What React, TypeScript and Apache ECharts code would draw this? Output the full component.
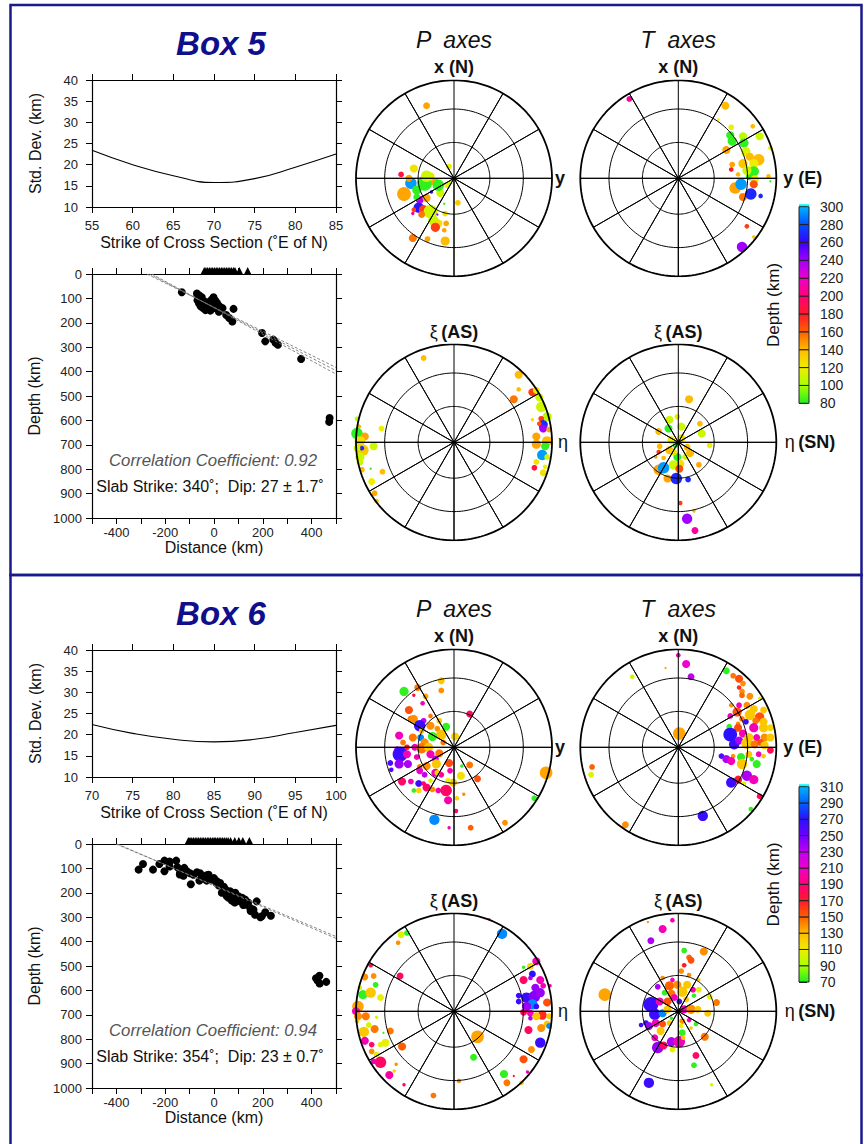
import React, { useEffect, useRef } from 'react';
import * as echarts from 'echarts';

const FONT = '"Liberation Sans", Arial, Helvetica, sans-serif';

// ---------- Std. deviation vs strike ----------
const STRIKE_5 = [55, 60, 65, 70, 75, 80, 85];
const STDDEV_5 = [23.4, 20.0, 17.4, 15.8, 16.7, 19.4, 22.5];
const STRIKE_6 = [70, 75, 80, 85, 90, 95, 100];
const STDDEV_6 = [22.4, 20.3, 18.9, 18.3, 18.9, 20.5, 22.2];

// ---------- Cross sections: [distance km, depth km] ----------
const QUAKES_5 = [
  [-132, 75], [-70, 80], [-60, 88], [-50, 95], [-68, 108], [-62, 120], [-55, 132], [-45, 140], [-35, 148],
  [-28, 125], [-20, 115], [-10, 105], [-2, 95], [5, 108], [12, 118], [-5, 130], [0, 140], [10, 138], [20, 130],
  [25, 148], [35, 140], [20, 155], [50, 168], [62, 180], [75, 195], [80, 143], [-40, 112], [-15, 150],
  [197, 242], [210, 276], [243, 269], [252, 282], [262, 290], [357, 348], [474, 590], [472, 606],
];
const QUAKES_6 = [
  [-309, 105], [-291, 82], [-250, 105], [-224, 82], [-203, 68], [-203, 112], [-182, 72], [-182, 92], [-155, 68],
  [-150, 95], [-139, 118], [-122, 98], [-111, 112], [-98, 120], [-95, 165], [-84, 126], [-70, 116], [-57, 120],
  [-43, 133], [-30, 128], [-22, 126], [-9, 146], [0, 140], [12, 153], [25, 160], [32, 200], [40, 175], [46, 185],
  [52, 214], [58, 195], [66, 194], [73, 232], [80, 210], [87, 200], [95, 225], [100, 214], [107, 235], [115, 220],
  [128, 228], [134, 249], [140, 240], [148, 262], [162, 269], [168, 290], [175, 235], [190, 300], [196, 296],
  [210, 280], [233, 294], [-140, 125], [-125, 130], [-60, 150], [-45, 140], [-30, 150], [10, 160], [20, 170],
  [60, 220], [85, 240], [120, 250], [150, 275], [418, 550], [432, 540], [433, 572], [460, 565], [425, 560],
];
const VOLCANOES_5 = [-40, -33, -26, -19, -12, -5, 2, 9, 16, 23, 30, 37, 44, 51, 58, 65, 72, 80, 86, 104, 138];
const VOLCANOES_6 = [-105, -98, -91, -84, -77, -70, -63, -56, -49, -42, -35, -28, -21, -14, -7, 0, 7, 14, 21, 28, 35, 42, 50, 58, 68, 85, 102, 118, 145];
const FITS_5 = [
  [[-275, 0], [500, 383]],
  [[-265, 0], [500, 396]],
  [[-255, 0], [500, 410]],
];
const FITS_6 = [
  [[-402, 0], [500, 379]],
  [[-396, 0], [500, 387]],
];
const CORR_5 = 'Correlation Coefficient: 0.92';
const SLAB_5 = 'Slab Strike: 340˚;  Dip: 27 ± 1.7˚';
const CORR_6 = 'Correlation Coefficient: 0.94';
const SLAB_6 = 'Slab Strike: 354˚;  Dip: 23 ± 0.7˚';

// ---------- Stereonets: [x, y (projection units, primitive = 100), depth km, symbol size] ----------
const P_AXES_5 = [
  [-28, 74, 145, 6], [-54, 4, 185, 5], [-41, 10, 125, 7], [-44, -5, 295, 10], [-51, -16, 145, 12], [-30, -5, 82, 13],
  [-38, -12, 82, 8], [-35, -22, 235, 7], [-36, -30, 265, 9], [-31, -32, 170, 8], [-41, -32, 170, 4], [-24, -34, 110, 12],
  [-21, -43, 110, 9], [-16, -46, 125, 7], [-19, -50, 170, 8], [-8, -46, 145, 5], [-9, -36, 125, 5], [-17, -37, 250, 2],
  [-10, -53, 145, 4], [-42, -61, 155, 7], [-27, -62, 145, 5], [-9, -64, 140, 8], [4, -25, 135, 5], [-5, 12, 120, 5],
  [-10, -26, 82, 2], [-24, 2, 125, 7], [-19, -4, 145, 7], [-14, -15, 110, 7], [-7, -7, 120, 5], [-46, 0, 145, 6],
  [-23, -14, 265, 3], [-38, -19, 82, 6], [-28, -20, 145, 7], [-33, -37, 155, 6], [-42, -36, 210, 3], [-4, -5, 110, 4],
  [-16, -7, 82, 10], [-28, 2, 110, 10],
];
const T_AXES_5 = [
  [-50, 81, 210, 5], [48, 74, 140, 7], [54, 52, 120, 5], [76, 53, 140, 4], [53, 44, 82, 7], [55, 38, 82, 8],
  [66, 43, 105, 7], [83, 43, 110, 7], [67, 36, 82, 8], [49, 29, 145, 7], [69, 27, 115, 8], [94, 31, 120, 4],
  [73, 22, 140, 7], [82, 19, 140, 10], [77, 15, 120, 8], [66, 15, 135, 8], [55, 14, 145, 5], [54, 9, 180, 4],
  [61, 4, 140, 4], [77, 7, 82, 9], [73, 2, 82, 7], [78, -1, 120, 7], [77, -6, 165, 7], [58, -10, 145, 10],
  [64, -6, 295, 10], [66, -19, 155, 7], [74, -16, 270, 10], [84, -18, 270, 4], [92, 2, 140, 4], [70, -49, 170, 4],
  [77, -60, 140, 3], [65, -70, 240, 9], [94, -3, 82, 2], [41, 60, 120, 2], [70, 8, 110, 8],
];
const P_XI_5 = [
  [-31, 86, 140, 5], [66, 69, 140, 7], [66, 54, 140, 4], [61, 44, 155, 7], [80, 51, 170, 7], [84, 53, 120, 6],
  [87, 46, 110, 7], [89, 36, 110, 9], [95, 26, 105, 8], [89, 24, 170, 5], [91, 18, 270, 8], [87, 19, 165, 4],
  [91, 14, 240, 7], [97, 13, 145, 5], [80, 23, 125, 3], [84, 6, 145, 7], [84, -2, 145, 8], [95, 1, 140, 9],
  [93, -4, 82, 7], [90, -13, 295, 9], [95, -15, 110, 5], [84, -20, 125, 5], [82, -26, 185, 5], [93, -25, 120, 4],
  [91, -31, 125, 6], [-99, 24, 105, 4], [-97, 16, 140, 4], [-99, 9, 82, 10], [-91, 6, 145, 7], [-96, 1, 125, 9],
  [-93, -8, 135, 10], [-94, -6, 270, 4], [-99, -6, 110, 6], [-82, -4, 110, 7], [-74, 14, 120, 5], [-96, -20, 110, 6],
  [-94, -28, 140, 5], [-84, -40, 120, 6], [-73, -30, 140, 5], [-81, -52, 145, 5], [-79, -60, 135, 4], [-85, -27, 82, 2],
  [-96, -15, 110, 8],
];
const T_XI_5 = [
  [11, 44, 140, 7], [-1, 26, 120, 5], [-9, 23, 110, 7], [-10, 14, 82, 7], [3, 16, 110, 7], [22, 19, 140, 5],
  [24, 9, 110, 7], [-20, 11, 140, 6], [-7, 2, 120, 7], [3, 4, 125, 7], [-3, -3, 82, 5], [9, -5, 140, 6],
  [12, -11, 140, 7], [-19, -4, 140, 5], [-20, -10, 170, 4], [-9, -8, 140, 7], [-1, -15, 82, 7], [-5, -10, 125, 6],
  [7, -15, 110, 5], [-15, -16, 140, 4], [-20, -28, 145, 9], [-15, -26, 295, 10], [-11, -37, 145, 7], [-2, -37, 270, 10],
  [-5, -23, 110, 8], [2, -22, 125, 7], [1, -27, 165, 7], [10, -38, 270, 5], [21, -23, 145, 5], [32, -3, 120, 5],
  [2, -62, 170, 4], [16, -70, 140, 3], [9, -78, 240, 9], [17, -90, 210, 6], [-23, -15, 145, 3],
];
const P_AXES_6 = [
  [-13, 68, 125, 6], [-13, 58, 140, 5], [-51, 57, 72, 8], [-37, 61, 145, 6], [-41, 53, 180, 3], [-29, 52, 135, 5],
  [-32, 45, 205, 4], [-46, 38, 155, 7], [-24, 32, 145, 4], [-44, 29, 145, 6], [-41, 29, 140, 7], [-31, 27, 230, 5],
  [-24, 22, 140, 7], [-35, 22, 265, 10], [-15, 27, 125, 5], [-8, 21, 72, 7], [16, 34, 185, 6], [-17, 19, 140, 5],
  [-13, 13, 128, 9], [-22, 11, 72, 8], [-33, 17, 125, 5], [-56, 12, 205, 7], [-42, 10, 145, 7], [-34, 10, 300, 6],
  [-30, 5, 140, 7], [1, 11, 120, 7], [-52, 5, 145, 5], [-48, 0, 170, 5], [-58, -2, 230, 5], [-55, -7, 265, 13],
  [-48, -7, 205, 7], [-40, 0, 205, 6], [-33, -1, 145, 9], [-26, 0, 125, 8], [-24, -7, 205, 7], [-15, -6, 145, 7],
  [-19, -12, 230, 6], [-18, -17, 125, 8], [-65, -16, 260, 5], [-64, -23, 260, 4], [-56, -17, 240, 8], [-47, -17, 235, 7],
  [-38, -10, 205, 5], [-35, -20, 145, 5], [-28, -19, 140, 7], [-35, -24, 210, 6], [-30, -28, 230, 5], [-19, -26, 205, 7],
  [-13, -28, 200, 5], [-5, -16, 155, 7], [-4, -24, 205, 5], [-53, -35, 185, 7], [-44, -35, 205, 5], [-36, -37, 265, 6],
  [-31, -37, 190, 4], [-24, -34, 105, 4], [-41, -44, 72, 4], [-36, -44, 120, 5], [-28, -41, 185, 7], [-22, -43, 140, 5],
  [-16, -44, 205, 5], [-8, -44, 185, 10], [-6, -54, 200, 7], [-1, -36, 125, 7], [7, -29, 115, 7], [-6, -34, 110, 5],
  [3, -52, 120, 4], [10, -48, 140, 3], [16, -18, 145, 6], [8, -19, 72, 3], [24, -32, 155, 6], [2, -65, 185, 4],
  [-20, -74, 300, 9], [-5, -82, 205, 3], [17, -82, 150, 5], [52, -77, 140, 5], [94, -26, 135, 11], [82, -52, 72, 5],
  [-17, -26, 120, 5], [-11, 5, 145, 5],
];
const T_AXES_6 = [
  [0, 94, 205, 4], [8, 85, 210, 7], [13, 72, 230, 6], [-13, 81, 135, 2], [-47, 72, 100, 4], [49, 78, 72, 6],
  [56, 73, 145, 5], [62, 70, 155, 7], [66, 65, 140, 5], [62, 61, 165, 4], [65, 57, 140, 5], [65, 53, 150, 5],
  [73, 52, 140, 6], [83, 50, 105, 3], [54, 43, 140, 4], [62, 43, 205, 5], [70, 43, 140, 6], [77, 39, 125, 7],
  [87, 38, 125, 6], [60, 36, 155, 8], [73, 33, 125, 9], [83, 31, 155, 8], [53, 32, 205, 5], [65, 29, 145, 5],
  [79, 27, 145, 6], [87, 26, 125, 7], [61, 24, 140, 4], [69, 26, 265, 5], [61, 20, 155, 7], [77, 20, 205, 8],
  [52, 21, 72, 5], [87, 20, 125, 8], [94, 20, 120, 6], [53, 13, 270, 12], [66, 14, 205, 7], [72, 10, 125, 8],
  [80, 10, 205, 6], [88, 10, 140, 7], [94, 10, 125, 7], [57, 3, 265, 9], [62, 7, 235, 7], [70, 4, 125, 10],
  [78, 3, 145, 7], [84, 5, 155, 6], [88, 2, 125, 7], [94, -3, 180, 6], [44, -9, 260, 5], [49, -12, 235, 7],
  [56, -9, 140, 4], [54, -14, 205, 7], [64, -10, 72, 7], [65, -17, 125, 9], [72, -7, 125, 6], [82, -7, 205, 5],
  [80, -17, 72, 7], [87, -9, 125, 4], [75, -12, 72, 4], [70, -29, 235, 9], [77, -33, 205, 8], [61, -33, 170, 7],
  [54, -36, 265, 9], [67, -37, 108, 4], [83, -50, 185, 5], [74, -63, 72, 4], [25, -70, 265, 9], [-54, -79, 140, 6],
  [1, 14, 135, 11], [-88, -20, 150, 5], [-89, -28, 105, 5],
];
const P_XI_6 = [
  [36, 94, 205, 2], [49, 79, 300, 9], [-54, 78, 105, 6], [-48, 80, 72, 5], [-57, 70, 140, 4], [-85, 47, 180, 4],
  [-55, 36, 185, 6], [-91, 35, 140, 6], [-82, 36, 140, 5], [-80, 27, 72, 5], [-93, 17, 72, 8], [-85, 19, 125, 9],
  [-75, 14, 108, 6], [-96, 24, 105, 4], [-98, 5, 135, 10], [-100, 0, 205, 7], [-98, -5, 140, 7], [-90, -5, 145, 7],
  [-79, -6, 105, 3], [-99, -10, 120, 4], [-87, -14, 105, 5], [-92, -21, 125, 9], [-81, -18, 145, 7], [-65, -20, 145, 6],
  [-72, -22, 72, 2], [-91, -30, 205, 7], [-84, -34, 185, 5], [-75, -34, 108, 5], [-70, -32, 108, 7], [-53, -36, 150, 7],
  [-84, -41, 140, 5], [-79, -44, 105, 5], [-75, -52, 185, 10], [-82, -51, 205, 5], [-66, -65, 200, 7], [-61, -61, 120, 3],
  [-59, -54, 140, 3], [-51, -75, 185, 3], [-21, -86, 145, 5], [5, -71, 140, 4], [20, -47, 72, 6], [24, -26, 135, 11],
  [51, -64, 72, 7], [54, -73, 145, 6], [61, -66, 170, 2], [71, -49, 155, 7], [69, -73, 125, 4], [75, -62, 205, 3],
  [84, 51, 205, 7], [71, 45, 72, 3], [78, 46, 120, 6], [80, 38, 270, 6], [71, 32, 185, 7], [78, 34, 235, 4],
  [88, 32, 205, 7], [91, 26, 205, 5], [83, 24, 240, 7], [66, 16, 265, 5], [66, 10, 265, 5], [74, 14, 265, 9],
  [82, 15, 245, 10], [88, 19, 240, 8], [95, 9, 155, 7], [80, 7, 300, 9], [74, 5, 240, 8], [84, 5, 265, 5],
  [71, -1, 185, 6], [78, -2, 205, 6], [90, -4, 165, 8], [97, -5, 125, 5], [78, -7, 235, 4], [84, -5, 125, 7],
  [95, -13, 125, 6], [89, -17, 140, 7], [76, -19, 185, 7], [88, -32, 265, 9], [79, -39, 140, 6], [97, -15, 300, 5],
  [98, 26, 205, 3],
];
const T_XI_6 = [
  [-6, 93, 205, 4], [-31, 91, 140, 2], [-16, 84, 205, 7], [-28, 72, 235, 6], [6, 62, 72, 5], [26, 61, 140, 7],
  [11, 55, 150, 5], [13, 52, 155, 6], [6, 47, 170, 4], [3, 41, 140, 5], [11, 37, 140, 4], [-16, 34, 140, 4],
  [-6, 32, 205, 4], [21, 32, 125, 3], [-21, 25, 235, 5], [-9, 26, 150, 8], [-1, 27, 140, 7], [9, 27, 125, 7],
  [4, 20, 125, 9], [21, 22, 108, 5], [-14, 19, 72, 5], [-7, 18, 145, 7], [15, 22, 205, 5], [-75, 17, 135, 11],
  [-28, 7, 265, 13], [-19, 10, 205, 7], [-11, 10, 155, 7], [-4, 14, 205, 6], [1, 10, 265, 5], [8, 12, 125, 5],
  [16, 16, 72, 4], [32, 15, 108, 5], [39, 9, 145, 6], [-24, -3, 265, 10], [-16, -2, 300, 7], [-11, 2, 125, 7],
  [6, 2, 205, 7], [13, 2, 140, 8], [20, 2, 125, 6], [30, -2, 125, 6], [-33, -12, 265, 5], [-38, -14, 265, 4],
  [-30, -15, 240, 7], [-23, -12, 205, 7], [-16, -13, 155, 6], [-9, -12, 125, 5], [-7, -7, 72, 3], [4, -10, 140, 5],
  [18, -13, 72, 4], [11, -9, 205, 4], [-18, -20, 125, 7], [3, -15, 108, 4], [4, -22, 72, 6], [13, -17, 125, 3],
  [27, -26, 145, 7], [-24, -27, 205, 6], [-21, -37, 240, 10], [-15, -35, 185, 7], [-7, -31, 235, 8], [1, -31, 205, 10],
  [-6, -39, 108, 5], [5, -27, 125, 4], [18, -45, 185, 6], [16, -55, 72, 5], [-30, -73, 265, 9], [34, -75, 105, 3],
];

// ---------- Depth colour scales ----------
const DEPTH_TICKS_5 = [80, 100, 120, 140, 160, 180, 200, 220, 240, 260, 280, 300];
const DEPTH_COLORS_5 = ['#22ee22', '#aaff00', '#eeee00', '#ffbb00', '#ff6000', '#ff1a2a', '#ff0077', '#f000cc', '#a000ff', '#3a00ff', '#0050ff', '#00b4ff'];
const DEPTH_TICKS_6 = [70, 90, 110, 130, 150, 170, 190, 210, 230, 250, 270, 290, 310];
const DEPTH_COLORS_6 = ['#22ee22', '#aaff00', '#eeee00', '#ffbb00', '#ff6000', '#ff1a2a', '#ff0077', '#f000cc', '#c000f0', '#7000ff', '#2a10ff', '#0060ff', '#00b4ff'];

const RING_PLUNGES = [60, 30, 0];
const SPOKE_AZIMUTHS = [0, 30, 60, 90, 120, 150, 180, 210, 240, 270, 300, 330];

function buildOption() {
  const grid: any[] = [];
  const xAxis: any[] = [];
  const yAxis: any[] = [];
  const series: any[] = [];
  const graphic: any[] = [];
  const visualMap: any[] = [];

  const addGrid = (g: any) => { grid.push(g); return grid.length - 1; };
  const addX = (a: any) => { xAxis.push(a); return xAxis.length - 1; };
  const addY = (a: any) => { yAxis.push(a); return yAxis.length - 1; };

  const axisLine = { show: true, onZero: false, lineStyle: { color: '#000', width: 1.2 } };
  const axisTick = { show: true, inside: false, length: 6, lineStyle: { color: '#000', width: 1 } };
  const labelStyle = { fontFamily: FONT, fontSize: 13, color: '#222' };
  const nameStyle = { fontFamily: FONT, fontSize: 16, color: '#111' };
  const plain = (v: number) => String(v);

  function framed(o: any) {
    const g = addGrid({ left: o.left, top: o.top, width: o.width, height: o.height });
    const xb = addX({
      gridIndex: g, type: 'value', position: 'bottom', min: o.xMin, max: o.xMax, interval: o.xInt,
      axisLine, axisTick, splitLine: { show: false },
      axisLabel: { ...labelStyle, margin: o.xMargin, formatter: o.xFormatter || plain, showMinLabel: true, showMaxLabel: true },
      name: o.xName, nameLocation: 'middle', nameGap: o.xNameGap, nameTextStyle: nameStyle,
    });
    addX({
      gridIndex: g, type: 'value', position: 'top', min: o.xMin, max: o.xMax, interval: o.xInt,
      axisLine, axisTick, splitLine: { show: false }, axisLabel: { show: false },
    });
    const yl = addY({
      gridIndex: g, type: 'value', position: 'left', min: o.yMin, max: o.yMax, interval: o.yInt, inverse: !!o.inverse,
      axisLine, axisTick, splitLine: { show: false },
      axisLabel: { ...labelStyle, margin: o.yMargin, formatter: plain, showMinLabel: true, showMaxLabel: true },
      name: o.yName, nameLocation: 'middle', nameGap: o.yNameGap, nameRotate: 90, nameTextStyle: nameStyle,
    });
    addY({
      gridIndex: g, type: 'value', position: 'right', min: o.yMin, max: o.yMax, interval: o.yInt, inverse: !!o.inverse,
      axisLine, axisTick, splitLine: { show: false }, axisLabel: { show: false },
    });
    return { xb, yl };
  }

  const txt = (x: number, y: number, text: string, font: string, fill = '#111', align = 'center') => ({
    type: 'text', x, y, silent: true, style: { text, font, fill, align, verticalAlign: 'middle' },
  });
  const richTxt = (x: number, y: number, a: string, b: string, align = 'center') => ({
    type: 'text', x, y, silent: true,
    style: {
      text: `{r|${a}} {b|${b}}`, align, verticalAlign: 'middle', fill: '#111',
      rich: {
        r: { fontFamily: FONT, fontSize: 18, fontWeight: 'normal', fill: '#111' },
        b: { fontFamily: FONT, fontSize: 18, fontWeight: 'bold', fill: '#111' },
      },
    },
  });

  function stereonet(cx: number, cy: number, data: number[][]) {
    const R = 98;
    const g = addGrid({ left: cx - R, top: cy - R, width: 2 * R, height: 2 * R });
    const xi = addX({ gridIndex: g, type: 'value', min: -100, max: 100, show: false });
    const yi = addY({ gridIndex: g, type: 'value', min: -100, max: 100, show: false });
    series.push({
      type: 'scatter', xAxisIndex: xi, yAxisIndex: yi, data, clip: false, silent: true, z: 2,
      symbol: 'circle', symbolSize: (v: number[]) => v[3] * 1.15, itemStyle: { opacity: 1 },
    });
    const scatterIndex = series.length - 1;
    // equal-area net: rings at plunge 60, 30, 0 and spokes every 30 degrees
    RING_PLUNGES.forEach((pl) => {
      const r = 100 * Math.SQRT2 * Math.sin(((90 - pl) / 2) * Math.PI / 180);
      const pts: number[][] = [];
      for (let a = 0; a <= 360; a += 2) {
        const t = (a * Math.PI) / 180;
        pts.push([r * Math.sin(t), r * Math.cos(t)]);
      }
      series.push({
        type: 'line', xAxisIndex: xi, yAxisIndex: yi, data: pts, symbol: 'none', silent: true, z: 3,
        lineStyle: { color: '#000', width: pl === 0 ? 1.8 : 1 },
      });
    });
    const spoke: number[][] = [];
    SPOKE_AZIMUTHS.forEach((az) => {
      const t = (az * Math.PI) / 180;
      spoke.push([100 * Math.sin(t), 100 * Math.cos(t)]);
      spoke.push([0, 0]);
    });
    series.push({
      type: 'line', xAxisIndex: xi, yAxisIndex: yi, data: spoke, symbol: 'none', silent: true, z: 3,
      lineStyle: { color: '#000', width: 1 },
    });
    return scatterIndex;
  }

  function colorbar(top: number, height: number, ticks: number[], colors: string[]) {
    const g = addGrid({ left: 799, top, width: 10, height });
    const xi = addX({ gridIndex: g, type: 'value', min: 0, max: 1, show: false });
    const min = ticks[0];
    const max = ticks[ticks.length - 1];
    const yi = addY({
      gridIndex: g, type: 'value', position: 'right', min, max, interval: 20,
      axisLine: { show: false }, splitLine: { show: false },
      axisTick: { show: true, length: 8, lineStyle: { color: '#222', width: 1 } },
      axisLabel: { ...labelStyle, fontSize: 14, margin: 11, formatter: plain, showMinLabel: true, showMaxLabel: true },
    });
    addY({
      gridIndex: g, type: 'value', position: 'left', min, max,
      axisLine: { show: false }, axisTick: { show: false }, axisLabel: { show: false }, splitLine: { show: false },
      name: 'Depth (km)', nameLocation: 'middle', nameGap: 17, nameRotate: 90, nameTextStyle: { ...nameStyle, fontSize: 17 },
    });
    const bands = ticks.slice(0, -1).map((lo, i) => [lo, ticks[i + 1], i]);
    series.push({
      type: 'custom', xAxisIndex: xi, yAxisIndex: yi, data: bands, silent: true, z: 2,
      renderItem: (_p: any, api: any) => {
        const lo = api.value(0);
        const hi = api.value(1);
        const i = api.value(2);
        const a = api.coord([0, lo]);
        const b = api.coord([1, hi]);
        const children: any[] = [{
          type: 'rect',
          shape: { x: a[0], y: b[1], width: b[0] - a[0], height: a[1] - b[1] },
          style: {
            fill: new echarts.graphic.LinearGradient(0, 1, 0, 0, [
              { offset: 0, color: colors[i] }, { offset: 1, color: colors[i + 1] },
            ]),
            stroke: '#222', lineWidth: 1,
          },
        }];
        if (hi === max) {
          children.push({
            type: 'rect', shape: { x: a[0], y: b[1] - 2.5, width: b[0] - a[0], height: 2 },
            style: { fill: '#00ffff' },
          });
        }
        return { type: 'group', children };
      },
    });
  }

  const boxes = [
    {
      dy: 0, title: 'Box 5', strike: STRIKE_5, std: STDDEV_5, quakes: QUAKES_5, volc: VOLCANOES_5, fits: FITS_5,
      corr: CORR_5, slab: SLAB_5, nets: [P_AXES_5, T_AXES_5, P_XI_5, T_XI_5], netDy: 0,
      ticks: DEPTH_TICKS_5, colors: DEPTH_COLORS_5, cbTop: 206.7, cbH: 196.6,
    },
    {
      dy: 570, title: 'Box 6', strike: STRIKE_6, std: STDDEV_6, quakes: QUAKES_6, volc: VOLCANOES_6, fits: FITS_6,
      corr: CORR_6, slab: SLAB_6, nets: [P_AXES_6, T_AXES_6, P_XI_6, T_XI_6], netDy: 569,
      ticks: DEPTH_TICKS_6, colors: DEPTH_COLORS_6, cbTop: 786.7, cbH: 195.3,
    },
  ];

  boxes.forEach((bx) => {
    const dy = bx.dy;
    // std-dev panel
    const s = framed({
      left: 92, top: 80 + dy, width: 244, height: 127,
      xMin: bx.strike[0], xMax: bx.strike[bx.strike.length - 1], xInt: 5,
      yMin: 10, yMax: 40, yInt: 5, xMargin: 12, yMargin: 14,
      xName: 'Strike of Cross Section (˚E of N)', xNameGap: 27,
      yName: 'Std. Dev. (km)', yNameGap: 49,
    });
    series.push({
      type: 'line', xAxisIndex: s.xb, yAxisIndex: s.yl, smooth: 0.5, symbol: 'none', silent: true,
      data: bx.strike.map((v, i) => [v, bx.std[i]]), lineStyle: { color: '#000', width: 1.1 },
    });

    // depth cross-section
    const d = framed({
      left: 92, top: 274 + dy, width: 244, height: 244,
      xMin: -500, xMax: 500, xInt: 100, yMin: 0, yMax: 1000, yInt: 100, inverse: true,
      xMargin: 8, yMargin: 10,
      xFormatter: (v: number) => (v % 200 === 0 && Math.abs(v) < 500 ? String(v) : ''),
      xName: 'Distance (km)', xNameGap: 21, yName: 'Depth (km)', yNameGap: 50,
    });
    bx.fits.forEach((f) => {
      series.push({
        type: 'line', xAxisIndex: d.xb, yAxisIndex: d.yl, data: f, symbol: 'none', silent: true, z: 3,
        lineStyle: { color: '#777', width: 0.9, type: [3, 2] },
      });
    });
    series.push({
      type: 'scatter', xAxisIndex: d.xb, yAxisIndex: d.yl, data: bx.quakes, symbolSize: 8, silent: true, z: 2,
      itemStyle: { color: '#000', opacity: 1 },
    });
    series.push({
      type: 'scatter', xAxisIndex: d.xb, yAxisIndex: d.yl, data: bx.volc.map((v) => [v, 0]), clip: false, silent: true,
      symbol: 'triangle', symbolSize: [7, 7], symbolOffset: [0, -3.6], itemStyle: { color: '#000', opacity: 1 }, z: 4,
    });
    graphic.push(txt(213, 460 + dy, bx.corr, `italic 16.8px ${FONT}`, '#555'));
    graphic.push(txt(210, 486.5 + dy, bx.slab, `16px ${FONT}`, '#111'));

    // title
    graphic.push(txt(221, 43 + dy, bx.title, `italic bold 33px ${FONT}`, '#0f0f8c'));

    // stereonets
    const ndy = bx.netDy;
    const centers = [[454, 178.3 + ndy], [678.3, 178.3 + ndy], [454, 442.3 + ndy], [678.3, 442.3 + ndy]];
    const scatterIdx = bx.nets.map((net, i) => stereonet(centers[i][0], centers[i][1], net));
    visualMap.push({
      type: 'continuous', show: false, seriesIndex: scatterIdx, dimension: 2,
      min: bx.ticks[0], max: bx.ticks[bx.ticks.length - 1], inRange: { color: bx.colors },
    });
    const [cP, cT, cPX, cTX] = centers;
    graphic.push(txt(cP[0], cP[1] - 138, 'P  axes', `italic 23px ${FONT}`));
    graphic.push(txt(cT[0], cT[1] - 138, 'T  axes', `italic 23px ${FONT}`));
    graphic.push(txt(cP[0], cP[1] - 111.5, 'x (N)', `bold 18px ${FONT}`));
    graphic.push(txt(cT[0], cT[1] - 111.5, 'x (N)', `bold 18px ${FONT}`));
    graphic.push(txt(cP[0] + 101, cP[1], 'y', `bold 18px ${FONT}`, '#111', 'left'));
    graphic.push(txt(cT[0] + 105, cT[1], 'y (E)', `bold 18px ${FONT}`, '#111', 'left'));
    graphic.push(richTxt(cPX[0], cPX[1] - 110.5, 'ξ', '(AS)'));
    graphic.push(richTxt(cTX[0], cTX[1] - 110.5, 'ξ', '(AS)'));
    graphic.push(txt(cPX[0] + 104, cPX[1], 'η', `18px ${FONT}`, '#111', 'left'));
    graphic.push(richTxt(cTX[0] + 106.5, cTX[1], 'η', '(SN)', 'left'));

    colorbar(bx.cbTop, bx.cbH, bx.ticks, bx.colors);
  });

  // blue frames
  graphic.push({
    type: 'rect', silent: true, shape: { x: 10.5, y: 5, width: 851, height: 570 },
    style: { fill: 'none', stroke: '#1a1a8c', lineWidth: 2.5 },
  });
  graphic.push({
    type: 'rect', silent: true, shape: { x: 10.5, y: 575, width: 851, height: 600 },
    style: { fill: 'none', stroke: '#1a1a8c', lineWidth: 2.5 },
  });

  return {
    animation: false,
    backgroundColor: '#fff',
    textStyle: { fontFamily: FONT },
    grid, xAxis, yAxis, series, visualMap, graphic,
  };
}

export default function App() {
  const ref = useRef<HTMLDivElement>(null);
  useEffect(() => {
    if (!ref.current) return;
    const chart = echarts.init(ref.current, null, { renderer: 'svg' });
    chart.setOption(buildOption() as any);
    return () => chart.dispose();
  }, []);
  return (
    <div
      ref={ref}
      style={{ position: 'absolute', left: 0, top: 0, width: 864, height: 1144, background: '#fff' }}
    />
  );
}
